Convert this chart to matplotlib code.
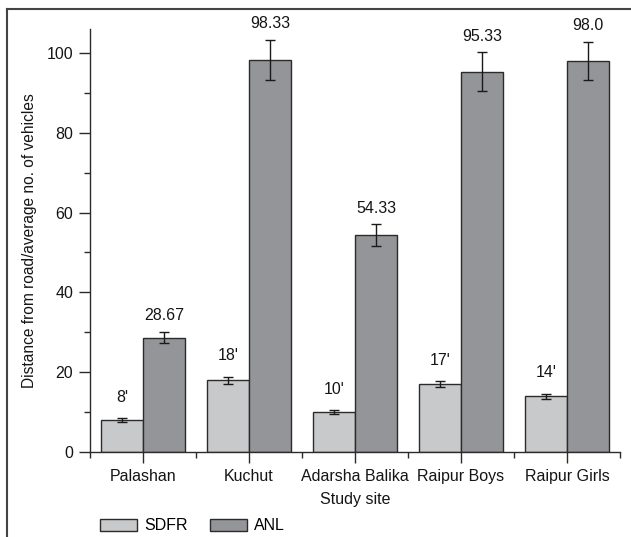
import matplotlib
matplotlib.use("Agg")
import matplotlib.pyplot as plt
from matplotlib.lines import Line2D
import numpy as np

plt.rcParams["font.family"] = ["Liberation Sans", "DejaVu Sans"]

sites = ["Palashan", "Kuchut", "Adarsha Balika", "Raipur Boys", "Raipur Girls"]
sdfr = [8, 18, 10, 17, 14]
sdfr_err = [0.4, 0.9, 0.5, 0.8, 0.6]
sdfr_labels = ["8'", "18'", "10'", "17'", "14'"]
anl = [28.67, 98.33, 54.33, 95.33, 98.0]
anl_err = [1.45, 5.0, 2.7, 4.8, 4.8]
anl_labels = ["28.67", "98.33", "54.33", "95.33", "98.0"]

sdfr_color = "#c8c9cb"
anl_color = "#949598"
edge = "#2b2b2b"
txt = "#151515"
W, H = 631, 537

fig = plt.figure(figsize=(W / 100, H / 100), dpi=100)
ax = fig.add_axes([90 / W, 1 - 452 / H, (620 - 90) / W, (452 - 29) / H])

x = np.arange(len(sites))
width = 0.4
err_kw = dict(ecolor="#1a1a1a", elinewidth=1.0, capsize=3.5, capthick=1.0)
b1 = ax.bar(x - width / 2, sdfr, width, yerr=sdfr_err, color=sdfr_color,
            edgecolor=edge, linewidth=1.0, error_kw=err_kw, label="SDFR")
b2 = ax.bar(x + width / 2, anl, width, yerr=anl_err, color=anl_color,
            edgecolor=edge, linewidth=1.0, error_kw=err_kw, label="ANL")

# value labels above the error bars
for xi, v, e, lab in zip(x - width / 2, sdfr, sdfr_err, sdfr_labels):
    ax.text(xi, v + e + 5.2, lab, ha="center", va="center", fontsize=11.5, color=txt)
for xi, v, e, lab in zip(x + width / 2, anl, anl_err, anl_labels):
    ax.text(xi, v + e + 4.0, lab, ha="center", va="center", fontsize=11.5, color=txt)

ax.set_xlim(-0.5, len(sites) - 0.5)
ax.set_ylim(0, 106)
ax.set_xticks(x)
ax.set_xticklabels(sites)
ax.set_xticks(np.arange(-0.5, len(sites), 1.0), minor=True)
ax.set_yticks(np.arange(0, 101, 20))
ax.set_yticks(np.arange(10, 106, 20), minor=True)
ax.tick_params(axis="both", which="major", length=8, width=1.0, color=edge,
               labelsize=11.5, labelcolor=txt)
ax.tick_params(axis="both", which="minor", length=4, width=1.0, color=edge)
ax.tick_params(axis="x", which="major", pad=4)
ax.tick_params(axis="y", which="major", pad=4)

for side in ["top", "right"]:
    ax.spines[side].set_visible(False)
for side in ["left", "bottom"]:
    ax.spines[side].set_color(edge)
    ax.spines[side].set_linewidth(1.0)

ax.set_xlabel("Study site", fontsize=11.5, color=txt, labelpad=6)
ax.set_ylabel("Distance from road/average no. of vehicles", fontsize=11.2,
              color=txt, labelpad=7)

fig.legend(handles=[b1, b2], labels=["SDFR", "ANL"], ncol=2, frameon=False,
           loc="center left", bbox_to_anchor=(92 / W, 1 - 526 / H),
           bbox_transform=fig.transFigure, fontsize=11.5, borderpad=0,
           handlelength=2.3, handleheight=0.85, handletextpad=0.45,
           columnspacing=1.4)

# outer frame lines along the top and left
fig.add_artist(Line2D([7 / W, 1.0], [1 - 9 / H, 1 - 9 / H], transform=fig.transFigure,
                      color="#444444", linewidth=1.5))
fig.add_artist(Line2D([7 / W, 7 / W], [0.0, 1 - 9 / H], transform=fig.transFigure,
                      color="#444444", linewidth=1.5))

fig.savefig("out.png", dpi=100)
